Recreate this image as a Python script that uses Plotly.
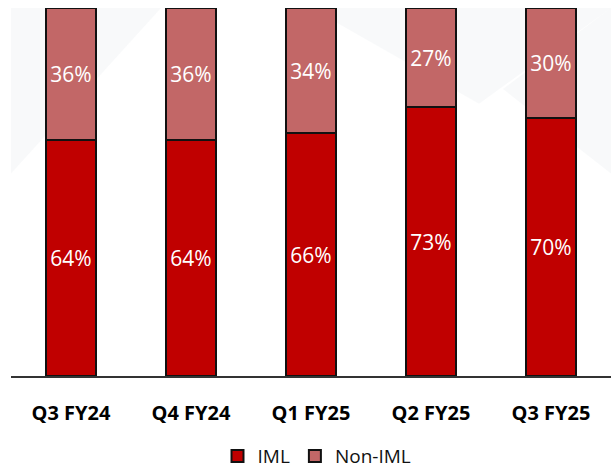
import plotly.graph_objects as go

categories = ["Q3 FY24", "Q4 FY24", "Q1 FY25", "Q2 FY25", "Q3 FY25"]
iml = [64, 64, 66, 73, 70]
non_iml = [36, 36, 34, 27, 30]

IML_COLOR = "#C00000"
NON_COLOR = "#C26767"

fig = go.Figure()
fig.add_trace(go.Bar(
    x=categories, y=iml, name="IML",
    marker=dict(color=IML_COLOR, line=dict(color="#111111", width=2)),
    text=[f"{v}%" for v in iml], textposition="inside", insidetextanchor="middle",
    textangle=0, textfont=dict(color="white", size=21, family="Open Sans"),
    width=0.41,
))
fig.add_trace(go.Bar(
    x=categories, y=non_iml, name="Non-IML",
    marker=dict(color=NON_COLOR, line=dict(color="#111111", width=2)),
    text=[f"{v}%" for v in non_iml], textposition="inside", insidetextanchor="middle",
    textangle=0, textfont=dict(color="white", size=21, family="Open Sans"),
    width=0.41,
))

# faint watermark shapes in background
bg_shapes = [
    dict(type="path", path="M 0 0.55 L 0.25 1.0 L 0 1.0 Z"),
    dict(type="path", path="M 0.5 1.0 L 0.78 0.74 L 1.0 1.0 Z"),
    dict(type="path", path="M 0.82 0.78 L 1.0 0.55 L 1.0 1.0 Z"),
]
shapes = []
for s in bg_shapes:
    s.update(xref="paper", yref="paper", fillcolor="rgba(238,239,243,0.4)",
             line=dict(width=0), layer="below")
    shapes.append(s)

fig.update_layout(
    barmode="stack",
    width=614, height=471,
    margin=dict(l=11, r=3, t=8, b=95, autoexpand=False),
    paper_bgcolor="white", plot_bgcolor="rgba(0,0,0,0)",
    font=dict(family="Open Sans", color="#000000"),
    showlegend=True,
    legend=dict(orientation="h", x=0.51, xanchor="center", y=-0.218, yanchor="middle",
                traceorder="normal",
                font=dict(size=19, family="Open Sans", color="#111111"),
                itemwidth=30, tracegroupgap=0),
    shapes=shapes,
)
fig.update_xaxes(
    showline=True, linecolor="#333333", linewidth=2,
    tickfont=dict(size=20, family="Open Sans", color="#000000", weight="bold"),
    ticks="", ticklabelstandoff=18, showgrid=False, fixedrange=True,
)
fig.update_yaxes(range=[0, 100], visible=False, showgrid=False, zeroline=False)

fig.write_html("out.html")
